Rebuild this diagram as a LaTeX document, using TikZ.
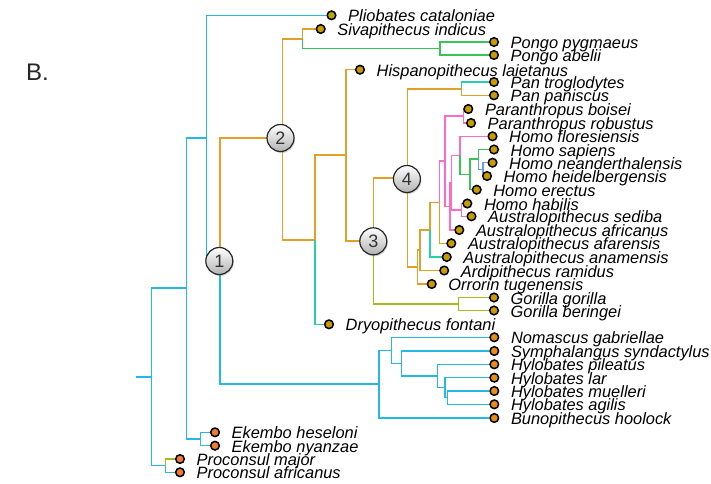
\documentclass[tikz,border=0pt]{standalone}
\usepackage{fontspec}
\setmainfont{Liberation Sans}
\usetikzlibrary{shadows}
\pgfdeclarelayer{bg}
\pgfsetlayers{bg,main}
\definecolor{cCy}{RGB}{35,185,228}
\definecolor{cOr}{RGB}{226,160,40}
\definecolor{cGr}{RGB}{55,195,85}
\definecolor{cTl}{RGB}{40,208,170}
\definecolor{cYg}{RGB}{160,188,30}
\definecolor{cPk}{RGB}{255,105,200}
\definecolor{cBl}{RGB}{105,155,255}
\definecolor{dGold}{RGB}{200,155,0}
\definecolor{dOl}{RGB}{182,168,0}
\definecolor{dOr}{RGB}{232,140,22}
\definecolor{dRd}{RGB}{238,125,48}
\tikzset{
  br/.style={line width=1.45pt},
  dot/.style={circle, draw=black, line width=1.5pt, minimum size=8.6pt, inner sep=0pt, fill=dGold},
  lab/.style={anchor=base west, inner sep=0pt, font=\fontsize{16.4}{16.4}\selectfont\itshape},
  num/.style={circle, draw=black!85, line width=1.2pt, minimum size=27pt, inner sep=0pt,
    top color=white, bottom color=black!30,
    drop shadow={shadow xshift=1pt, shadow yshift=-1.5pt, opacity=0.35},
    font=\fontsize{18}{18}\selectfont, text=black!80},
}
\newcommand{\tleaf}[4][dGold]{%
  \node[dot, fill=#1] (#2) at (#3) {};
  \node[lab] (#2l) at ([xshift=16.5pt,yshift=-6.6pt]#2.center) {#4};}
\begin{document}
\begin{tikzpicture}[x=1pt,y=-1pt]
\path[use as bounding box] (0,0) rectangle (711,483);
% internal nodes
\coordinate (r0) at (136,377);
\coordinate (r) at (151.7,377);
\coordinate (pc) at (165.7,465.7);
\coordinate (a) at (186.7,288.2);
\coordinate (ek) at (200.7,439);
\coordinate (b) at (206.7,138.2);
\coordinate (n1) at (220,261.1);
\coordinate (n2) at (282.7,138);
\coordinate (sp) at (302.7,39);
\coordinate (pg) at (440,48.5);
\coordinate (d) at (315,240);
\coordinate (h) at (346,155);
\coordinate (n3) at (373.3,241.1);
\coordinate (gor) at (458.3,304);
\coordinate (n4) at (407.3,178.2);
\coordinate (pan) at (461.7,89);
\coordinate (o) at (417.7,267.1);
\coordinate (ar) at (420,250.2);
\coordinate (an) at (430,229.8);
\coordinate (af) at (439.3,202.3);
\coordinate (pa0) at (445,161.2);
\coordinate (par) at (463.3,116);
\coordinate (afr) at (450,206.3);
\coordinate (hs) at (451.7,182.7);
\coordinate (habsed) at (461.7,210);
\coordinate (homo) at (460,155.3);
\coordinate (hr) at (470,174.6);
\coordinate (hs2) at (478.3,159.2);
\coordinate (bl) at (483,169.3);
\coordinate (gib) at (379,384.2);
\coordinate (gb1) at (391.7,350.4);
\coordinate (gb2) at (401.7,363.5);
\coordinate (gb3) at (437.3,376);
\coordinate (gb4) at (445,387.7);
\coordinate (gb5) at (447.7,397.7);
% leaves
\tleaf[dOl]{pli}{331.5,15.3}{Pliobates cataloniae}
\tleaf{siva}{320.7,29}{Sivapithecus indicus}
\tleaf{ppyg}{494,42}{Pongo pygmaeus}
\tleaf{pabe}{494,55}{Pongo abelii}
\tleaf{hisp}{360,69.7}{Hispanopithecus laietanus}
\tleaf{ptro}{494,82}{Pan troglodytes}
\tleaf{ppan}{494,95.3}{Pan paniscus}
\tleaf{pboi}{468.3,109}{Paranthropus boisei}
\tleaf{prob}{471,123}{Paranthropus robustus}
\tleaf{hflo}{492.5,136.3}{Homo floresiensis}
\tleaf{hsap}{494,149.5}{Homo sapiens}
\tleaf{hnea}{492.5,162.7}{Homo neanderthalensis}
\tleaf{hhei}{487,176}{Homo heidelbergensis}
\tleaf{here}{476.7,189.7}{Homo erectus}
\tleaf{hhab}{467.3,203.5}{Homo habilis}
\tleaf{ased}{471.5,216.3}{Australopithecus sediba}
\tleaf{aafr}{459.3,230}{Australopithecus africanus}
\tleaf{aafa}{451.3,243.3}{Australopithecus afarensis}
\tleaf{aana}{446.7,257}{Australopithecus anamensis}
\tleaf{ardi}{444.2,270.5}{Ardipithecus ramidus}
\tleaf{orr}{431.7,284}{Orrorin tugenensis}
\tleaf{ggor}{494,297.5}{Gorilla gorilla}
\tleaf{gber}{494,310.5}{Gorilla beringei}
\tleaf{dryo}{329,324.3}{Dryopithecus fontani}
\tleaf[dOr]{noma}{494.3,337.3}{Nomascus gabriellae}
\tleaf[dOr]{symp}{494.3,351}{Symphalangus syndactylus}
\tleaf[dOr]{hpil}{494.3,364.3}{Hylobates pileatus}
\tleaf[dOr]{hlar}{494.3,377.7}{Hylobates lar}
\tleaf[dOr]{hmue}{494.3,391}{Hylobates muelleri}
\tleaf[dOr]{hagi}{494.3,404.3}{Hylobates agilis}
\tleaf[dOr]{buno}{494.3,418}{Bunopithecus hoolock}
\tleaf[dRd]{ehes}{215,432.3}{Ekembo heseloni}
\tleaf[dRd]{enya}{215,445.7}{Ekembo nyanzae}
\tleaf[dRd]{pmaj}{180,459}{Proconsul major}
\tleaf[dRd]{pafr}{180,472.3}{Proconsul africanus}
% numbered nodes
\node[num] (c1) at (219.3,261) {1};
\node[num] (c2) at (280.5,138) {2};
\node[num] (c3) at (373.3,241.3) {3};
\node[num] (c4) at (406.9,179) {4};
% panel label
\node[anchor=base west, inner sep=0pt, font=\fontsize{24}{24}\selectfont, text=black!85] (lbl) at (26,80) {B.};
% branches
\begin{pgfonlayer}{bg}
\draw[br,cCy] (r0) -- (r);
\draw[br,cCy] (r) |- (a);
\draw[br,cCy] (r) |- (pc);
\draw[br,cYg] (pc) |- (pmaj);
\draw[br,cCy] (pc) |- (pafr);
\draw[br,cCy] (a) |- (b);
\draw[br,cCy] (a) |- (ek);
\draw[br,cCy] (ek) |- (ehes);
\draw[br,cTl] (ek) |- (enya);
\draw[br,cCy] (b) |- (pli);
\draw[br,cCy] (b) |- (n1);
\draw[br,cOr] (n1) |- (n2);
\draw[br,cCy] (n1) |- (gib);
\draw[br,cCy] (gib) |- (gb1);
\draw[br,cCy] (gib) |- (buno);
\draw[br,cCy] (gb1) |- (noma);
\draw[br,cCy] (gb1) |- (gb2);
\draw[br,cCy] (gb2) |- (symp);
\draw[br,cCy] (gb2) |- (gb3);
\draw[br,cCy] (gb3) |- (hpil);
\draw[br,cCy] (gb3) |- (gb4);
\draw[br,cCy] (gb4) |- (hlar);
\draw[br,cCy] (gb4) |- (gb5);
\draw[br,cCy] (gb5) |- (hmue);
\draw[br,cCy] (gb5) |- (hagi);
\draw[br,cOr] (n2) |- (sp);
\draw[br,cOr] (n2) |- (d);
\draw[br,cOr] (sp) |- (siva);
\draw[br,cGr] (sp) |- (pg);
\draw[br,cGr] (pg) |- (ppyg);
\draw[br,cGr] (pg) |- (pabe);
\draw[br,cOr] (d) |- (h);
\draw[br,cTl] (d) |- (dryo);
\draw[br,cOr] (h) |- (hisp);
\draw[br,cOr] (h) |- (n3);
\draw[br,cOr] (n3) |- (n4);
\draw[br,cYg] (n3) |- (gor);
\draw[br,cYg] (gor) |- (ggor);
\draw[br,cYg] (gor) |- (gber);
\draw[br,cOr] (n4) |- (pan);
\draw[br,cOr] (n4) |- (o);
\draw[br,cTl] (pan) |- (ptro);
\draw[br,cOr] (pan) |- (ppan);
\draw[br,cOr] (o) |- (orr);
\draw[br,cOr] (o) |- (ar);
\draw[br,cOr] (ar) |- (ardi);
\draw[br,cOr] (ar) |- (an);
\draw[br,cTl] (an) |- (aana);
\draw[br,cOr] (an) |- (af);
\draw[br,cOr] (af) |- (aafa);
\draw[br,cPk] (af) |- (pa0);
\draw[br,cPk] (pa0) |- (par);
\draw[br,cPk] (pa0) |- (afr);
\draw[br,cPk] (par) |- (pboi);
\draw[br,cPk] (par) |- (prob);
\draw[br,cPk] (afr) |- (aafr);
\draw[br,cPk] (afr) |- (hs);
\draw[br,cPk] (hs) |- (homo);
\draw[br,cPk] (hs) |- (habsed);
\draw[br,cPk] (habsed) |- (hhab);
\draw[br,cPk] (habsed) |- (ased);
\draw[br,cPk] (homo) |- (hflo);
\draw[br,cGr] (homo) |- (hr);
\draw[br,cGr] (hr) |- (hs2);
\draw[br,cGr] (hr) |- (here);
\draw[br,cGr] (hs2) |- (hsap);
\draw[br,cBl] (hs2) |- (bl);
\draw[br,cBl] (bl) |- (hnea);
\draw[br,cBl] (bl) |- (hhei);
\end{pgfonlayer}
\end{tikzpicture}
\end{document}
